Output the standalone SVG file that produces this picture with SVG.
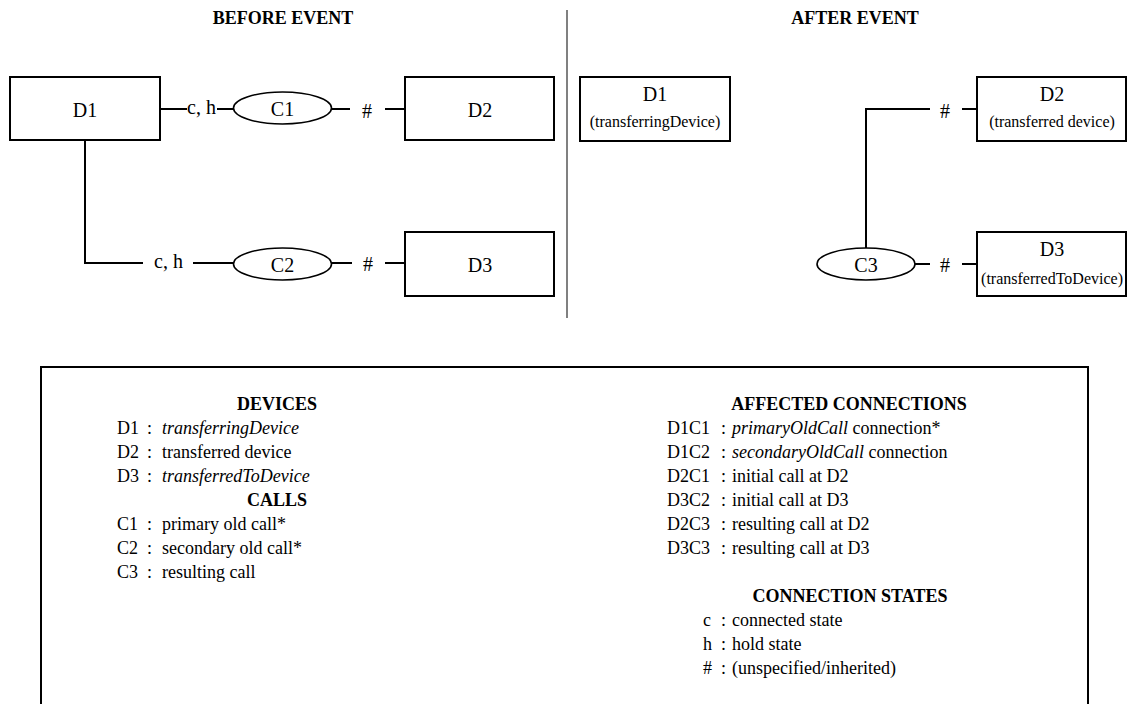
<svg xmlns="http://www.w3.org/2000/svg" width="1127" height="704" viewBox="0 0 1127 704">
<style>
text{font-family:"Liberation Serif","Times New Roman",serif;fill:#000}
.h{font-weight:bold;font-size:18px;text-anchor:middle}
.lbl{font-size:20px;text-anchor:middle}
.sub{font-size:16px;text-anchor:middle}
.st{font-size:20px}
.lg{font-size:18px}
.i{font-style:italic}
.box{fill:#fff;stroke:#000;stroke-width:2}
.call{fill:#fff;stroke:#000;stroke-width:1.6}
.ln{fill:none;stroke:#000;stroke-width:2}
</style>
<rect width="1127" height="704" fill="#fff"/>
<text class="h" x="283" y="24">BEFORE EVENT</text>
<text class="h" x="855" y="24">AFTER EVENT</text>
<line x1="567" y1="10" x2="567" y2="318" stroke="#808080" stroke-width="2"/>

<g id="connectors">
  <line class="ln" x1="160" y1="109" x2="187" y2="109"/>
  <line class="ln" x1="217" y1="109" x2="234" y2="109"/>
  <line class="ln" x1="331" y1="109" x2="350" y2="109"/>
  <line class="ln" x1="385" y1="109" x2="405" y2="109"/>
  <polyline class="ln" points="85,140 85,263 143,263"/>
  <line class="ln" x1="193" y1="263" x2="234" y2="263"/>
  <line class="ln" x1="331" y1="263" x2="352" y2="263"/>
  <line class="ln" x1="385" y1="263" x2="405" y2="263"/>
  <polyline class="ln" points="866,248 866,109 930,109"/>
  <line class="ln" x1="962" y1="109" x2="977" y2="109"/>
  <line class="ln" x1="914" y1="264" x2="930" y2="264"/>
  <line class="ln" x1="962" y1="264" x2="977" y2="264"/>
  <text class="st" x="187" y="114">c, h</text>
  <text class="lbl" x="367" y="118">#</text>
  <text class="st" x="154" y="268">c, h</text>
  <text class="lbl" x="368" y="271">#</text>
  <text class="lbl" x="945" y="118">#</text>
  <text class="lbl" x="945" y="272">#</text>
</g>

<g id="before-D1"><rect class="box" x="10" y="77" width="150" height="63"/><text class="lbl" x="85" y="117">D1</text></g>
<g id="before-C1"><ellipse class="call" cx="282.5" cy="108" rx="49" ry="16"/><text class="lbl" x="282.5" y="116">C1</text></g>
<g id="before-D2"><rect class="box" x="405" y="77" width="149" height="63"/><text class="lbl" x="480" y="117">D2</text></g>
<g id="before-C2"><ellipse class="call" cx="282.5" cy="264" rx="49" ry="16"/><text class="lbl" x="282.5" y="272">C2</text></g>
<g id="before-D3"><rect class="box" x="405" y="232" width="149" height="64"/><text class="lbl" x="480" y="272">D3</text></g>

<g id="after-D1"><rect class="box" x="580" y="77" width="150" height="64"/><text class="lbl" x="655" y="101">D1</text><text class="sub" x="655" y="127">(transferringDevice)</text></g>
<g id="after-D2"><rect class="box" x="977" y="77" width="149" height="64"/><text class="lbl" x="1052" y="101">D2</text><text class="sub" x="1052" y="127">(transferred device)</text></g>
<g id="after-C3"><ellipse class="call" cx="866" cy="264" rx="49" ry="16"/><text class="lbl" x="866" y="272">C3</text></g>
<g id="after-D3"><rect class="box" x="977" y="232" width="149" height="64"/><text class="lbl" x="1052" y="256">D3</text><text class="sub" x="1052" y="284">(transferredToDevice)</text></g>

<g id="legend">
  <rect x="41" y="367" width="1047" height="400" fill="none" stroke="#000" stroke-width="2"/>
  <text class="h" x="277" y="410">DEVICES</text>
  <text class="lg" x="117" y="434">D1</text><text class="lg" x="147" y="434">:</text><text class="lg i" x="162" y="434">transferringDevice</text>
  <text class="lg" x="117" y="458">D2</text><text class="lg" x="147" y="458">:</text><text class="lg" x="162" y="458">transferred device</text>
  <text class="lg" x="117" y="482">D3</text><text class="lg" x="147" y="482">:</text><text class="lg i" x="162" y="482">transferredToDevice</text>
  <text class="h" x="277" y="506">CALLS</text>
  <text class="lg" x="117" y="530">C1</text><text class="lg" x="147" y="530">:</text><text class="lg" x="162" y="530">primary old call*</text>
  <text class="lg" x="117" y="554">C2</text><text class="lg" x="147" y="554">:</text><text class="lg" x="162" y="554">secondary old call*</text>
  <text class="lg" x="117" y="578">C3</text><text class="lg" x="147" y="578">:</text><text class="lg" x="162" y="578">resulting call</text>

  <text class="h" x="849" y="410">AFFECTED CONNECTIONS</text>
  <text class="lg" x="667" y="434">D1C1</text><text class="lg" x="721" y="434">:</text><text class="lg" x="732" y="434"><tspan class="i">primaryOldCall</tspan> connection*</text>
  <text class="lg" x="667" y="458">D1C2</text><text class="lg" x="721" y="458">:</text><text class="lg" x="732" y="458"><tspan class="i">secondaryOldCall</tspan> connection</text>
  <text class="lg" x="667" y="482">D2C1</text><text class="lg" x="721" y="482">:</text><text class="lg" x="732" y="482">initial call at D2</text>
  <text class="lg" x="667" y="506">D3C2</text><text class="lg" x="721" y="506">:</text><text class="lg" x="732" y="506">initial call at D3</text>
  <text class="lg" x="667" y="530">D2C3</text><text class="lg" x="721" y="530">:</text><text class="lg" x="732" y="530">resulting call at D2</text>
  <text class="lg" x="667" y="554">D3C3</text><text class="lg" x="721" y="554">:</text><text class="lg" x="732" y="554">resulting call at D3</text>
  <text class="h" x="850" y="602">CONNECTION STATES</text>
  <text class="lg" x="703" y="626">c</text><text class="lg" x="721" y="626">:</text><text class="lg" x="732" y="626">connected state</text>
  <text class="lg" x="703" y="650">h</text><text class="lg" x="721" y="650">:</text><text class="lg" x="732" y="650">hold state</text>
  <text class="lg" x="703" y="674">#</text><text class="lg" x="721" y="674">:</text><text class="lg" x="732" y="674">(unspecified/inherited)</text>
</g>
</svg>
